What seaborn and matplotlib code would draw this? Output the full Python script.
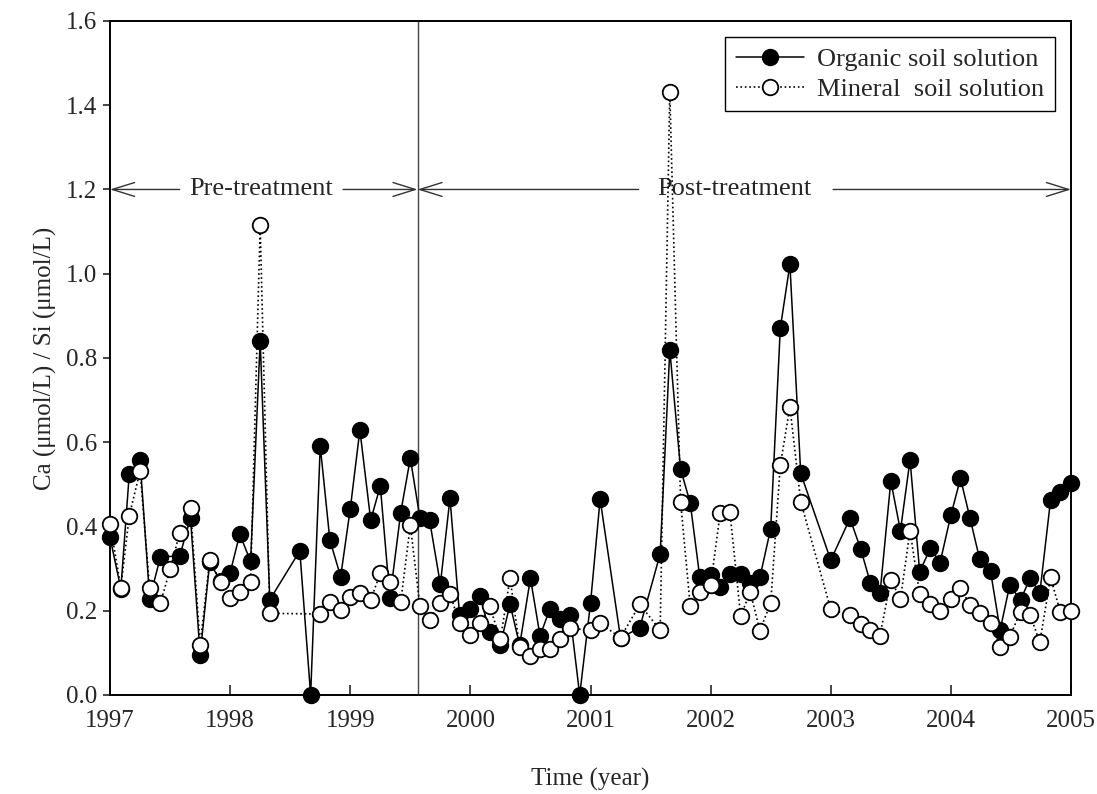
import numpy as np
import pandas as pd
import matplotlib
matplotlib.use('Agg')
import matplotlib.pyplot as plt
import seaborn as sns

# --- data (decimal year, Ca/Si ratio) ---
organic_time = [1997.00, 1997.09, 1997.16, 1997.25, 1997.33, 1997.42, 1997.58, 1997.67,
                1997.75, 1997.83, 1997.92, 1998.00, 1998.08, 1998.17, 1998.25, 1998.33,
                1998.58, 1998.67, 1998.75, 1998.83, 1998.92, 1999.00, 1999.08, 1999.17,
                1999.25, 1999.33, 1999.42, 1999.50, 1999.58, 1999.66, 1999.75, 1999.83,
                1999.91, 2000.00, 2000.08, 2000.16, 2000.25, 2000.33, 2000.41, 2000.50,
                2000.58, 2000.66, 2000.75, 2000.83, 2000.91, 2001.00, 2001.08, 2001.25,
                2001.41, 2001.58, 2001.66, 2001.75, 2001.83, 2001.91, 2002.00, 2002.08,
                2002.16, 2002.25, 2002.33, 2002.41, 2002.50, 2002.58, 2002.66, 2002.75,
                2003.00, 2003.16, 2003.25, 2003.33, 2003.41, 2003.50, 2003.58, 2003.66,
                2003.74, 2003.83, 2003.91, 2004.00, 2004.08, 2004.16, 2004.24, 2004.33,
                2004.41, 2004.49, 2004.58, 2004.66, 2004.74, 2004.83, 2004.91, 2005.00]
organic_ratio = [0.374, 0.252, 0.524, 0.557, 0.229, 0.328, 0.330, 0.420,
                 0.096, 0.315, 0.270, 0.290, 0.382, 0.317, 0.841, 0.226,
                 0.342, 0.000, 0.591, 0.368, 0.281, 0.442, 0.629, 0.415,
                 0.496, 0.230, 0.433, 0.562, 0.420, 0.415, 0.263, 0.467,
                 0.190, 0.203, 0.235, 0.150, 0.119, 0.216, 0.118, 0.277,
                 0.140, 0.203, 0.181, 0.190, 0.000, 0.218, 0.465, 0.135,
                 0.160, 0.335, 0.819, 0.536, 0.456, 0.279, 0.286, 0.256,
                 0.287, 0.288, 0.265, 0.279, 0.395, 0.871, 1.022, 0.526,
                 0.320, 0.419, 0.346, 0.266, 0.241, 0.508, 0.390, 0.558,
                 0.293, 0.348, 0.314, 0.427, 0.514, 0.419, 0.322, 0.294,
                 0.154, 0.261, 0.225, 0.278, 0.241, 0.463, 0.482, 0.504]

mineral_time = [1997.00, 1997.09, 1997.16, 1997.25, 1997.33, 1997.42, 1997.50, 1997.58,
                1997.67, 1997.75, 1997.83, 1997.92, 1998.00, 1998.08, 1998.17, 1998.25,
                1998.33, 1998.75, 1998.83, 1998.92, 1999.00, 1999.08, 1999.17, 1999.25,
                1999.33, 1999.42, 1999.50, 1999.58, 1999.66, 1999.75, 1999.83, 1999.91,
                2000.00, 2000.08, 2000.16, 2000.25, 2000.33, 2000.41, 2000.50, 2000.58,
                2000.66, 2000.75, 2000.83, 2001.00, 2001.08, 2001.25, 2001.41, 2001.58,
                2001.66, 2001.75, 2001.83, 2001.91, 2002.00, 2002.08, 2002.16, 2002.25,
                2002.33, 2002.41, 2002.50, 2002.58, 2002.66, 2002.75, 2003.00, 2003.16,
                2003.25, 2003.33, 2003.41, 2003.50, 2003.58, 2003.66, 2003.74, 2003.83,
                2003.91, 2004.00, 2004.08, 2004.16, 2004.24, 2004.33, 2004.41, 2004.49,
                2004.58, 2004.66, 2004.74, 2004.83, 2004.91, 2005.00]
mineral_ratio = [0.406, 0.255, 0.425, 0.532, 0.253, 0.219, 0.298, 0.385,
                 0.443, 0.119, 0.320, 0.269, 0.231, 0.245, 0.269, 1.115,
                 0.194, 0.192, 0.220, 0.202, 0.233, 0.242, 0.225, 0.290,
                 0.269, 0.221, 0.403, 0.211, 0.178, 0.219, 0.240, 0.170,
                 0.142, 0.170, 0.211, 0.132, 0.278, 0.113, 0.093, 0.108,
                 0.108, 0.132, 0.158, 0.154, 0.170, 0.136, 0.215, 0.154,
                 1.432, 0.459, 0.211, 0.245, 0.261, 0.433, 0.435, 0.187,
                 0.245, 0.153, 0.218, 0.546, 0.684, 0.459, 0.203, 0.190,
                 0.168, 0.154, 0.141, 0.273, 0.228, 0.390, 0.239, 0.216,
                 0.199, 0.229, 0.253, 0.214, 0.194, 0.172, 0.115, 0.138,
                 0.198, 0.190, 0.125, 0.279, 0.198, 0.200]

treatment_start = 1999.56
year_ticks = [1997, 1998, 1999, 2000, 2001, 2002, 2003, 2004, 2005]
ratio_ticks = [0.0, 0.2, 0.4, 0.6, 0.8, 1.0, 1.2, 1.4, 1.6]

organic = pd.DataFrame({'year': organic_time, 'ratio': organic_ratio})
mineral = pd.DataFrame({'year': mineral_time, 'ratio': mineral_ratio})

# --- style ---
sns.set_style('ticks')
plt.rcParams['font.family'] = ['Liberation Serif', 'DejaVu Serif']

fig = plt.figure(figsize=(10.97, 7.94), dpi=100)
ax = fig.add_axes([0.1003, 0.1247, 0.8760, 0.8489])

sns.lineplot(data=organic, x='year', y='ratio', ax=ax, sort=False, estimator=None,
             color='black', lw=1.1, marker='o', markersize=11.5,
             markerfacecolor='black', markeredgecolor='black', markeredgewidth=1.0,
             clip_on=False, label='Organic soil solution', zorder=3)
sns.lineplot(data=mineral, x='year', y='ratio', ax=ax, sort=False, estimator=None,
             color='black', lw=1.2, linestyle=':', marker='o', markersize=11.2,
             markerfacecolor='white', markeredgecolor='black', markeredgewidth=1.3,
             clip_on=False, label='Mineral  soil solution', zorder=4)

ax.axvline(treatment_start, color='#444444', lw=1.0, zorder=1)

# treatment period arrows
arrow_kw = dict(arrowstyle='->,head_length=1.6,head_width=0.5', lw=1.0, color='#333333',
                shrinkA=0, shrinkB=0, mutation_scale=10)
for tail, tip in [(1997.58, 1997.0), (1998.94, treatment_start),
                  (2001.40, treatment_start), (2003.02, 2005.0)]:
    ax.annotate('', xy=(tip, 1.2), xytext=(tail, 1.2), arrowprops=arrow_kw,
                annotation_clip=False, zorder=2)
ax.text(1998.26, 1.2, 'Pre-treatment', ha='center', va='center', fontsize=19)
ax.text(2002.20, 1.2, 'Post-treatment', ha='center', va='center', fontsize=19)

ax.set_xlim(1997, 2005)
ax.set_ylim(0, 1.6)
ax.set_xticks(year_ticks)
ax.set_yticks(ratio_ticks)
ax.set_yticklabels([f'{v:.1f}' for v in ratio_ticks])
ax.tick_params(axis='x', direction='in', length=7, width=1.2, labelsize=18, pad=11)
ax.tick_params(axis='y', direction='out', length=5, width=1.2, labelsize=18, pad=4)
for side in ['left', 'right', 'top', 'bottom']:
    ax.spines[side].set_visible(True)
    ax.spines[side].set_linewidth(1.4)
    ax.spines[side].set_color('black')

ax.set_xlabel('Time (year)', fontsize=18, labelpad=26)
ax.set_ylabel('Ca (μmol/L) / Si (μmol/L)', fontsize=18, labelpad=7)

leg = ax.legend(loc='upper right', fontsize=19, frameon=True, fancybox=False,
                edgecolor='black', framealpha=1, borderaxespad=0.6, handlelength=2.6,
                borderpad=0.4, labelspacing=0.25, handletextpad=0.5)
leg.get_frame().set_linewidth(1.0)

plt.savefig('out.png', dpi=100)
